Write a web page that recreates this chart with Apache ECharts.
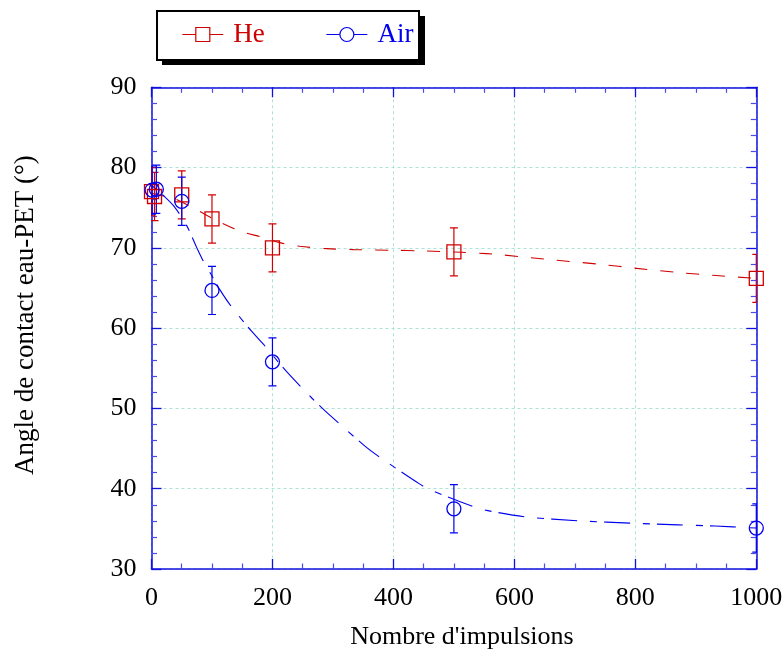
<!DOCTYPE html>
<html><head><meta charset="utf-8">
<script src="https://cdn.jsdelivr.net/npm/echarts@6/dist/echarts.min.js"></script>
<style>html,body{margin:0;padding:0;background:#fff}#c{width:784px;height:653px}</style>
</head><body><div id="c"></div>
<script>
// Measured data points (Nombre d'impulsions, angle in degrees) with error half-widths
const heX = [0, 5, 50, 100, 200, 500, 1000];
const heY = [77.0, 76.4, 76.6, 73.6, 70.0, 69.5, 66.2];
const heErr = [3, 3, 3, 3, 3, 3, 3];
const airX = [1, 8, 50, 100, 200, 500, 1000];
const airY = [77.2, 77.3, 75.8, 64.7, 55.8, 37.5, 35.1];
const airErr = [3, 3, 3, 3, 3, 3, 3];
// Fitted curves
const heFitX = [0, 20, 37, 66, 88, 113, 135, 157, 179, 212, 245, 290, 334, 400, 444, 513, 554, 576, 650, 742, 802, 868, 934, 1000];
const heFitY = [76.8, 76.45, 76.15, 75.1, 74.2, 73.2, 72.45, 71.85, 71.4, 70.65, 70.2, 69.9, 69.78, 69.7, 69.63, 69.45, 69.28, 69.15, 68.6, 67.95, 67.45, 66.95, 66.55, 66.2];
const airFitX = [0, 20, 37, 58, 75, 86, 100, 113, 130, 160, 185, 222, 265, 287, 353, 376, 443, 463, 531, 554, 618, 708, 797, 871, 932, 1000];
const airFitY = [77.8, 76.5, 75.2, 72.8, 70.0, 68.3, 66.5, 64.8, 62.9, 60.1, 58.0, 54.7, 51.3, 49.7, 45.3, 44.0, 40.6, 39.8, 37.8, 37.3, 36.5, 36.0, 35.7, 35.5, 35.35, 35.1];
const xTicks = [0, 200, 400, 600, 800, 1000];
const yTicks = [30, 40, 50, 60, 70, 80, 90];

const RED = '#d00000', BLUE = '#0000ee', AXIS = '#1010e0', GRIDC = '#a9e4d6';
const FONT = '"Liberation Serif", "DejaVu Serif", serif';

const chart = echarts.init(document.getElementById('c'), null, {renderer: 'canvas'});

function zip(xs, ys) { return xs.map((x, i) => [x, ys[i]]); }
function errSeries(name, xs, ys, es, color) {
  return {
    type: 'custom', name: name, z: 3, clip: true, silent: true,
    data: xs.map((x, i) => [x, ys[i] - es[i], ys[i] + es[i]]),
    encode: {x: 0, y: [1, 2]},
    renderItem: function (params, api) {
      const x = api.value(0);
      const lo = api.coord([x, api.value(1)]);
      const hi = api.coord([x, api.value(2)]);
      const w = 4;
      const st = {stroke: color, lineWidth: 1.2, fill: null};
      return {type: 'group', children: [
        {type: 'line', shape: {x1: lo[0], y1: lo[1], x2: hi[0], y2: hi[1]}, style: st},
        {type: 'line', shape: {x1: lo[0] - w, y1: lo[1], x2: lo[0] + w, y2: lo[1]}, style: st},
        {type: 'line', shape: {x1: hi[0] - w, y1: hi[1], x2: hi[0] + w, y2: hi[1]}, style: st}
      ]};
    }
  };
}
function axisBase(extra, minorSplit) {
  return Object.assign({
    axisLine: {show: true, onZero: false, lineStyle: {color: AXIS, width: 1.5}},
    axisTick: {show: true, inside: true, length: 10, lineStyle: {color: AXIS, width: 1.3}},
    minorTick: {show: true, splitNumber: minorSplit, length: 5.5, lineStyle: {color: '#4a4aee', width: 1.2}}
  }, extra);
}
const plain = v => String(v);

const xAxisMain = axisBase({
  type: 'value', min: xTicks[0], max: xTicks[xTicks.length - 1], interval: 200,
  position: 'bottom',
  axisLabel: {color: '#000', fontFamily: FONT, fontSize: 26, margin: 16, formatter: plain},
  splitLine: {show: true, lineStyle: {color: GRIDC, type: [3, 3], width: 1}},
  name: "Nombre d'impulsions", nameLocation: 'middle', nameGap: 55,
  nameTextStyle: {color: '#000', fontFamily: FONT, fontSize: 26, padding: [0, 0, 0, 16]}
}, 4);
const xAxisTop = axisBase({
  type: 'value', min: xTicks[0], max: xTicks[xTicks.length - 1], interval: 200,
  position: 'top', axisLabel: {show: false}, splitLine: {show: false}
}, 4);
const yAxisMain = axisBase({
  type: 'value', min: yTicks[0], max: yTicks[yTicks.length - 1], interval: 10,
  position: 'left',
  axisLabel: {color: '#000', fontFamily: FONT, fontSize: 26, margin: 15, formatter: plain},
  splitLine: {show: true, lineStyle: {color: GRIDC, type: [3, 3], width: 1}},
  name: 'Angle de contact eau-PET (°)', nameLocation: 'middle', nameGap: 112,
  nameTextStyle: {color: '#000', fontFamily: FONT, fontSize: 27, padding: [0, 0, 0, 26]}
}, 5);
const yAxisRight = axisBase({
  type: 'value', min: yTicks[0], max: yTicks[yTicks.length - 1], interval: 10,
  position: 'right', axisLabel: {show: false}, splitLine: {show: false}
}, 5);

chart.setOption({
  animation: false,
  backgroundColor: '#fff',
  grid: {left: 151.5, right: 27.7, top: 87.3, bottom: 84, containLabel: false, outerBoundsMode: 'none'},
  graphic: [
    {type: 'rect', shape: {x: 162, y: 16, width: 263, height: 49}, style: {fill: '#000'}, z: 0},
    {type: 'rect', shape: {x: 157, y: 11, width: 262, height: 49}, style: {fill: '#fff', stroke: '#000', lineWidth: 2}, z: 1}
  ],
  legend: {
    left: 181.7, top: 21, padding: 0, itemGap: 61, itemWidth: 41, itemHeight: 17.5,
    z: 10, selectedMode: false,
    data: [
      {name: 'He', textStyle: {color: RED}},
      {name: 'Air', textStyle: {color: BLUE}}
    ],
    textStyle: {fontFamily: FONT, fontSize: 27, padding: [0, 0, 0, 5]},
    lineStyle: {type: 'solid', width: 1.2, opacity: 1},
    itemStyle: {color: '#fff', borderWidth: 1.2}
  },
  xAxis: [xAxisMain, xAxisTop],
  yAxis: [yAxisMain, yAxisRight],
  series: [
    {type: 'line', name: 'He fit', data: zip(heFitX, heFitY), smooth: 0.3, showSymbol: false, z: 2, silent: true,
     lineStyle: {color: RED, width: 1.1, type: [13, 13]}, itemStyle: {color: RED}},
    {type: 'line', name: 'Air fit', data: zip(airFitX, airFitY), smooth: 0.3, showSymbol: false, z: 2, silent: true,
     lineStyle: {color: BLUE, width: 1.1, type: [7, 7, 26, 13]}, itemStyle: {color: BLUE}},
    errSeries('He err', heX, heY, heErr, RED),
    errSeries('Air err', airX, airY, airErr, BLUE),
    {type: 'line', name: 'He', data: zip(heX, heY), symbol: 'rect', symbolSize: 14, showSymbol: true, showAllSymbol: true,
     z: 4, clip: false, silent: true,
     lineStyle: {color: RED, opacity: 0, width: 1}, itemStyle: {color: 'rgba(255,255,255,0)', borderColor: RED, borderWidth: 1.3}},
    {type: 'line', name: 'Air', data: zip(airX, airY), symbol: 'circle', symbolSize: 14, showSymbol: true, showAllSymbol: true,
     z: 4, clip: false, silent: true,
     lineStyle: {color: BLUE, opacity: 0, width: 1}, itemStyle: {color: 'rgba(255,255,255,0)', borderColor: BLUE, borderWidth: 1.3}}
  ]
});
</script>
</body></html>
